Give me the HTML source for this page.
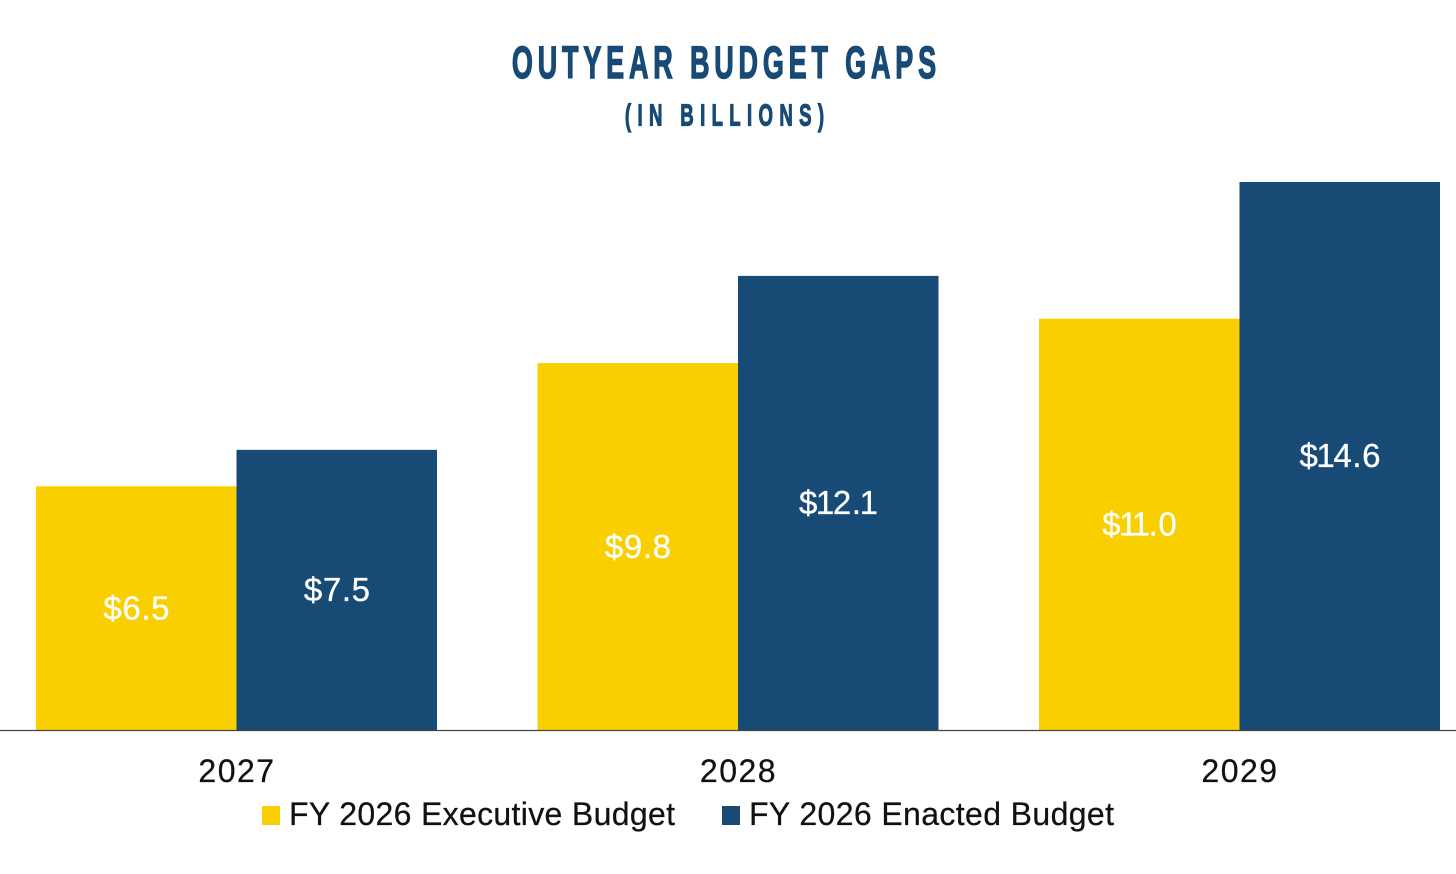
<!DOCTYPE html>
<html lang="en">
<head>
<meta charset="utf-8">
<title>Outyear Budget Gaps</title>
<style>
  html, body { margin: 0; padding: 0; background: #fff; }
  svg { display: block; }
  text { font-family: "Liberation Sans", sans-serif; }
</style>
</head>
<body>
<svg id="chart" xmlns="http://www.w3.org/2000/svg" width="1456" height="874" viewBox="0 0 1456 874">
  <rect x="0" y="0" width="1456" height="874" fill="#ffffff"/>
  <text transform="translate(724,78) scale(0.6,1)" text-anchor="middle" font-size="45" font-weight="700" fill="#174a75" stroke="#174a75" stroke-width="1.4" textLength="707">OUTYEAR BUDGET GAPS</text>
  <text transform="translate(724.5,125.5) scale(0.6,1)" text-anchor="middle" font-size="31" font-weight="700" fill="#174a75" stroke="#174a75" stroke-width="1.2" textLength="332">(IN BILLIONS)</text>
  <g id="bars"></g>
  <g id="bar-labels"></g>
  <line x1="0" y1="730.5" x2="1456" y2="730.5" stroke="#444444" stroke-width="1.2"/>
  <g id="x-ticks"></g>
  <g>
    <rect x="262" y="806" width="18" height="19" fill="#facf00"/>
    <text x="289" y="825" font-size="32" fill="#111111" stroke="#111111" stroke-width="0.25" textLength="386">FY 2026 Executive Budget</text>
    <rect x="722" y="806" width="18" height="19" fill="#174a75"/>
    <text x="749" y="825" font-size="32" fill="#111111" stroke="#111111" stroke-width="0.25" textLength="365">FY 2026 Enacted Budget</text>
  </g>
</svg>
<script>
const categories = ["2027", "2028", "2029"];
const executiveValues = [6.5, 9.78, 10.96];
const enactedValues = [7.47, 12.1, 14.6];

const SVG_NS = "http://www.w3.org/2000/svg";
const BASELINE_Y = 730.5;
const PIXELS_PER_BILLION = 37.57;
const FIRST_GROUP_CENTER = 236.5;
const GROUP_STEP = 501.5;
const BAR_WIDTH = 200.5;

function xCenter(index) {
  return FIRST_GROUP_CENTER + index * GROUP_STEP;
}
function yScale(value) {
  return BASELINE_Y - value * PIXELS_PER_BILLION;
}

const barsGroup = document.getElementById("bars");
const labelsGroup = document.getElementById("bar-labels");
const ticksGroup = document.getElementById("x-ticks");

/* Tightens the wide Liberation "1" so value labels match the narrow figure in the source font. */
function fillLabelText(label, text) {
  let previousWasOne = false;
  text.split("").forEach(function (ch) {
    const span = document.createElementNS(SVG_NS, "tspan");
    let shift = previousWasOne ? -2 : 0;
    if (ch === "1") {
      shift -= 2;
    }
    if (shift !== 0) {
      span.setAttribute("dx", shift);
    }
    span.textContent = ch;
    label.appendChild(span);
    previousWasOne = ch === "1";
  });
}

function drawSeries(values, seriesName, color, offset) {
  values.forEach(function (value, i) {
    const top = yScale(value);
    const left = xCenter(i) + offset;

    const bar = document.createElementNS(SVG_NS, "rect");
    
    
    bar.setAttribute("x", left);
    bar.setAttribute("y", top);
    bar.setAttribute("width", BAR_WIDTH);
    bar.setAttribute("height", BASELINE_Y - top);
    bar.setAttribute("fill", color);
    barsGroup.appendChild(bar);

    const label = document.createElementNS(SVG_NS, "text");
    
    
    label.setAttribute("x", left + BAR_WIDTH / 2 + 0.5);
    label.setAttribute("y", (top + BASELINE_Y) / 2 + 11);
    label.setAttribute("text-anchor", "middle");
    label.setAttribute("font-size", "33");
    label.setAttribute("letter-spacing", "0.6");
    label.setAttribute("fill", "#ffffff");
    label.setAttribute("stroke", "#ffffff");
    label.setAttribute("stroke-width", "0.3");
    fillLabelText(label, "$" + value.toFixed(1));
    labelsGroup.appendChild(label);
  });
}

drawSeries(executiveValues, "executive", "#facf00", -BAR_WIDTH);
drawSeries(enactedValues, "enacted", "#174a75", 0);

categories.forEach(function (category, i) {
  const tick = document.createElementNS(SVG_NS, "text");
  
  
  tick.setAttribute("x", xCenter(i) + 0.5);
  tick.setAttribute("y", 782);
  tick.setAttribute("text-anchor", "middle");
  tick.setAttribute("font-size", "32");
  tick.setAttribute("letter-spacing", "1.5");
  tick.setAttribute("fill", "#111111");
  tick.setAttribute("stroke", "#111111");
  tick.setAttribute("stroke-width", "0.25");
  tick.textContent = category;
  ticksGroup.appendChild(tick);
});
</script>
</body>
</html>
